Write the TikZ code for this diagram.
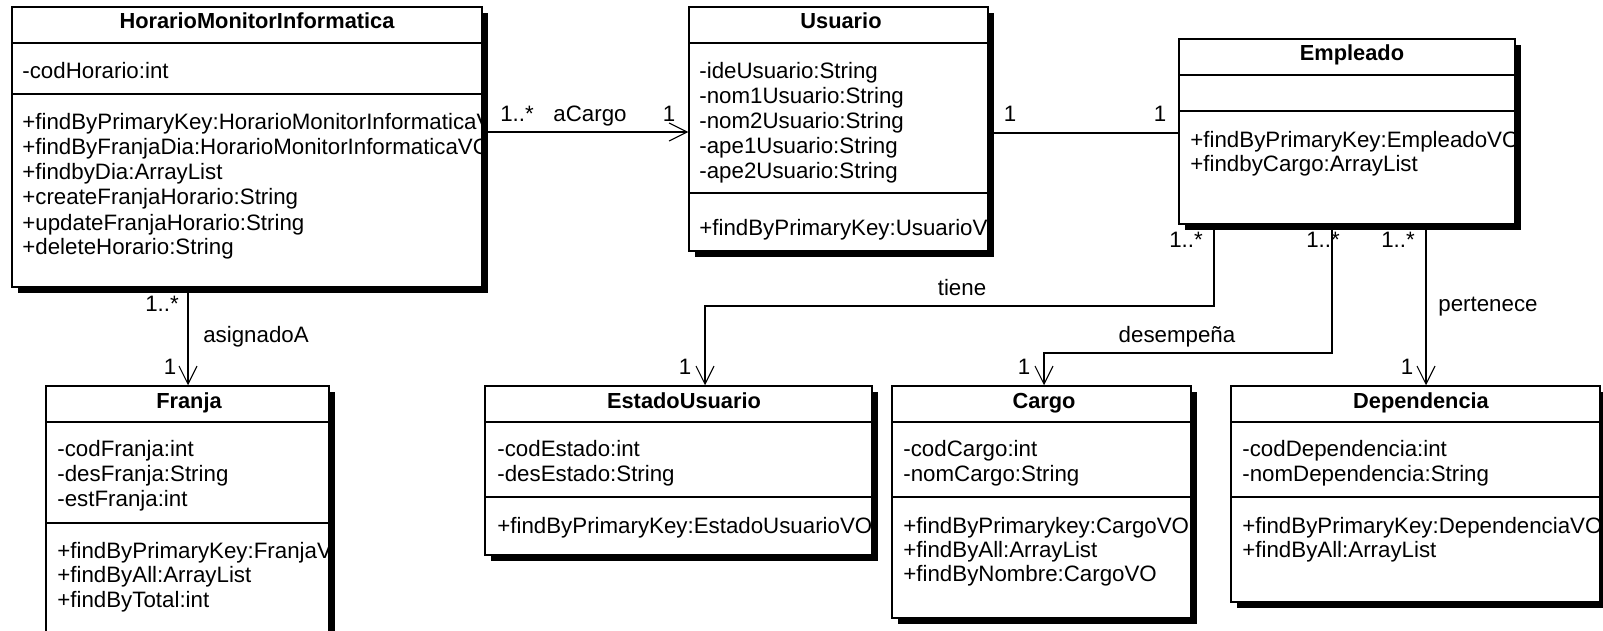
\documentclass[tikz,border=0pt]{standalone}
\usepackage{fontspec}
\setmainfont{Liberation Sans}
\usetikzlibrary{arrows.meta,fit,backgrounds}

\tikzset{
  cls/.style={draw,line width=0.75pt,fill=white,inner sep=0pt},
  ttl/.style={anchor=base,inner sep=0pt,font=\fontsize{10.9}{13}\selectfont\bfseries},
  mem/.style={anchor=base west,inner sep=0pt},
  lbl/.style={anchor=base,inner sep=0pt},
  assoc/.style={line width=0.55pt},
}

% class box: name, x1, y1, x2, y2, first divider, second divider
\newcommand\umlclass[7]{%
  \fill (#2+6,#3+6) rectangle (#4+6,#5+6);
  \node[cls,fit={(#2,#3) (#4,#5)}] (#1) {};
  \draw[line width=0.75pt] (#2,#6) -- (#4,#6) (#2,#7) -- (#4,#7);
}

\begin{document}
\begin{tikzpicture}[x=0.5pt,y=-0.5pt,line join=miter,
    >={Straight Barb[length=9pt,width=9pt]},
    font=\fontsize{11.15}{13}\selectfont]
  \useasboundingbox (0,0) rectangle (1603,631);
  \clip (0,0) rectangle (1603,631);

  \umlclass{hmi}{12}{7}{482}{287}{43}{94}
  \umlclass{usu}{689}{7}{988}{251}{43}{193}
  \umlclass{emp}{1179}{39}{1515}{224}{75}{111}
  \umlclass{fra}{46}{386}{329}{680}{422}{523}
  \umlclass{est}{485}{386}{872}{555}{422}{497}
  \umlclass{car}{892}{386}{1191}{618}{422}{497}
  \umlclass{dep}{1231}{386}{1600}{602}{422}{497}

  % HorarioMonitorInformatica
  \begin{scope}
    \clip (hmi.south west) rectangle (hmi.north east);
    \node[ttl] (hmi-n) at (257,29) {HorarioMonitorInformatica};
    \node[mem] (hmi-a1) at (22,79) {-codHorario:int};
    \foreach \m [count=\i] in {+findByPrimaryKey:HorarioMonitorInformaticaV,
        +findByFranjaDia:HorarioMonitorInformaticaVO,+findbyDia:ArrayList,
        +createFranjaHorario:String,+updateFranjaHorario:String,+deleteHorario:String}
      \node[mem] (hmi-m\i) at (22,{130+25*(\i-1)}) {\m};
  \end{scope}

  % Usuario
  \begin{scope}
    \clip (usu.south west) rectangle (usu.north east);
    \node[ttl] (usu-n) at (841,29) {Usuario};
    \foreach \m [count=\i] in {-ideUsuario:String,-nom1Usuario:String,
        -nom2Usuario:String,-ape1Usuario:String,-ape2Usuario:String}
      \node[mem] (usu-a\i) at (699,{79+25*(\i-1)}) {\m};
    \node[mem] (usu-m1) at (699,235) {+findByPrimaryKey:UsuarioVO};
  \end{scope}

  % Empleado
  \begin{scope}
    \clip (emp.south west) rectangle (emp.north east);
    \node[ttl] (emp-n) at (1352,61) {Empleado};
    \node[mem] (emp-m1) at (1190,148) {+findByPrimaryKey:EmpleadoVO};
    \node[mem] (emp-m2) at (1190,172) {+findbyCargo:ArrayList};
  \end{scope}

  % Franja
  \begin{scope}
    \clip (fra.south west) rectangle (fra.north east);
    \node[ttl] (fra-n) at (189,408) {Franja};
    \foreach \m [count=\i] in {-codFranja:int,-desFranja:String,-estFranja:int}
      \node[mem] (fra-a\i) at (57,{456+25*(\i-1)}) {\m};
    \foreach \m [count=\i] in {+findByPrimaryKey:FranjaVO,+findByAll:ArrayList,+findByTotal:int}
      \node[mem] (fra-m\i) at (57,{558+24.5*(\i-1)}) {\m};
  \end{scope}

  % EstadoUsuario
  \begin{scope}
    \clip (est.south west) rectangle (est.north east);
    \node[ttl] (est-n) at (684,408) {EstadoUsuario};
    \node[mem] (est-a1) at (497,456) {-codEstado:int};
    \node[mem] (est-a2) at (497,481) {-desEstado:String};
    \node[mem] (est-m1) at (497,533) {+findByPrimaryKey:EstadoUsuarioVO};
  \end{scope}

  % Cargo
  \begin{scope}
    \clip (car.south west) rectangle (car.north east);
    \node[ttl] (car-n) at (1044,408) {Cargo};
    \node[mem] (car-a1) at (903,456) {-codCargo:int};
    \node[mem] (car-a2) at (903,481) {-nomCargo:String};
    \foreach \m [count=\i] in {+findByPrimarykey:CargoVO,+findByAll:ArrayList,+findByNombre:CargoVO}
      \node[mem] (car-m\i) at (903,{533+24*(\i-1)}) {\m};
  \end{scope}

  % Dependencia
  \begin{scope}
    \clip (dep.south west) rectangle (dep.north east);
    \node[ttl] (dep-n) at (1421,408) {Dependencia};
    \node[mem] (dep-a1) at (1242,456) {-codDependencia:int};
    \node[mem] (dep-a2) at (1242,481) {-nomDependencia:String};
    \node[mem] (dep-m1) at (1242,533) {+findByPrimaryKey:DependenciaVO};
    \node[mem] (dep-m2) at (1242,557) {+findByAll:ArrayList};
  \end{scope}

  % associations
  \coordinate (ac) at (0,132);
  \coordinate (ue) at (0,133);
  \coordinate (as) at (188,0);
  \coordinate (ti1) at (1214,306);
  \coordinate (ti2) at (705,306);
  \coordinate (de1) at (1332,353);
  \coordinate (de2) at (1044,353);
  \coordinate (pe) at (1426,0);
  \begin{scope}[on background layer]
    \draw[assoc,->] (hmi.east |- ac) -- (usu.west |- ac);
    \draw[assoc] (usu.east |- ue) -- (emp.west |- ue);
    \draw[assoc,->] (hmi.south -| as) -- (fra.north -| as);
    \draw[assoc,->] (emp.south -| ti1) -- (ti1) -- (ti2) -- (est.north -| ti2);
    \draw[assoc,->] (emp.south -| de1) -- (de1) -- (de2) -- (car.north -| de2);
    \draw[assoc,->] (emp.south -| pe) -- (dep.north -| pe);
  \end{scope}

  \node[lbl] (ac-m1) at (517,122) {1..*};
  \node[lbl] (ac-n) at (590,122) {aCargo};
  \node[lbl] (ac-m2) at (669,122) {1};
  \node[lbl] (ue-m1) at (1010,122) {1};
  \node[lbl] (ue-m2) at (1160,122) {1};
  \node[lbl] (as-m1) at (162,311) {1..*};
  \node[lbl] (as-n) at (256,343) {asignadoA};
  \node[lbl] (as-m2) at (170,374) {1};
  \node[lbl] (ti-m1) at (1186,248) {1..*};
  \node[lbl] (ti-n) at (962,295) {tiene};
  \node[lbl] (ti-m2) at (685,374) {1};
  \node[lbl] (de-m1) at (1323,248) {1..*};
  \node[lbl] (de-n) at (1177,343) {desempeña};
  \node[lbl] (de-m2) at (1024,374) {1};
  \node[lbl] (pe-m1) at (1398,248) {1..*};
  \node[lbl] (pe-n) at (1488,311) {pertenece};
  \node[lbl] (pe-m2) at (1407,374) {1};
\end{tikzpicture}
\end{document}
